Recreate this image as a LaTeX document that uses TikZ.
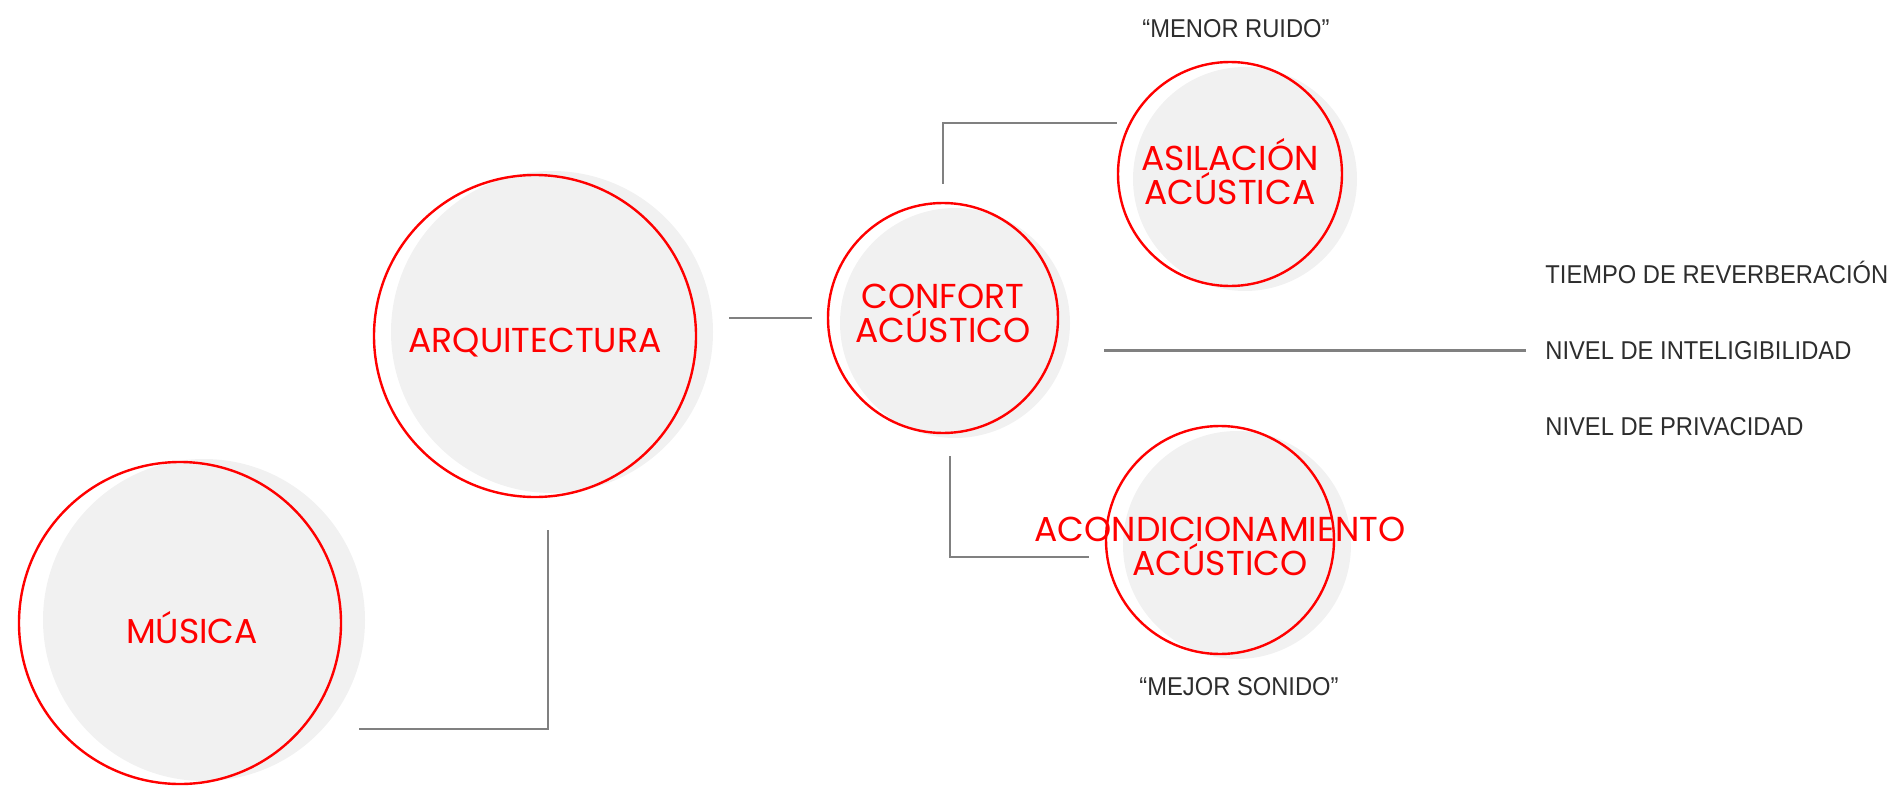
\documentclass[tikz,border=0pt]{standalone}
\usepackage{fontspec}
\usepackage{tikz}
\usetikzlibrary{calc, shadows}
\newfontfamily\bubblefont{Poppins}
\newfontfamily\notefont[FakeStretch=0.92]{Liberation Sans}
\definecolor{bubblered}{RGB}{255, 0, 0}
\definecolor{bubblegray}{RGB}{241, 241, 241}
\definecolor{linkgray}{RGB}{128, 128, 128}
\definecolor{notegray}{RGB}{45, 45, 45}

\begin{document}
\begin{tikzpicture}[
    x=0.5pt, y=-0.5pt,
    bubble/.style 2 args={circle, draw=bubblered, line width=1.2pt, inner sep=0pt, general shadow={fill=bubblegray, draw=none, shadow xshift=#1, shadow yshift=#2}},
    bubbletext/.style={text=bubblered, align=center, inner sep=0pt, font=\bubblefont\fontsize{17.3}{17}\selectfont},
    note/.style={text=notegray, inner sep=0pt, font=\notefont\fontsize{12.9}{14}\selectfont},
    link/.style={draw=linkgray, line width=1.4pt}
]
\useasboundingbox (0,0) rectangle (1891,787);

% Circles
\node[bubble={12pt}{1.5pt}, minimum size=161pt, label={[bubbletext, xshift=6pt, yshift=-2.5pt]center:MÚSICA}] (musica) at (180,623) {};
\node[bubble={8.5pt}{2pt}, minimum size=161pt, label={[bubbletext, yshift=-3.5pt]center:ARQUITECTURA}] (arq) at (535,336) {};
\node[bubble={6pt}{-2.5pt}, minimum size=115pt, label={[bubbletext, yshift=2.5pt]center:CONFORT\\ACÚSTICO}] (confort) at (943,318) {};
\node[bubble={7.5pt}{-2.5pt}, minimum size=112pt, label={[bubbletext, yshift=1.25pt]center:ASILACIÓN\\ACÚSTICA}] (asil) at (1230,174) {};
\node[bubble={8.5pt}{-2.5pt}, minimum size=114pt, label={[bubbletext, yshift=-3pt]center:ACONDICIONAMIENTO\\ACÚSTICO}] (acon) at (1220,540) {};

% Notes
\node[note, anchor=base] (menor) at (1236,37) {“MENOR RUIDO”};
\node[note, anchor=base] (mejor) at (1239,695) {“MEJOR SONIDO”};
\node[note, anchor=base west] (tiempo) at (1545,283) {TIEMPO DE REVERBERACIÓN};
\node[note, anchor=base west] (inteli) at (1545,359) {NIVEL DE INTELIGIBILIDAD};
\node[note, anchor=base west] (privacidad) at (1545,435) {NIVEL DE PRIVACIDAD};

% Links
\draw[link] ([shift={(17,106)}]musica.east) -| ([shift={(13,32)}]arq.south);
\draw[link] ($(arq.east |- confort.west)+(32,0)$) -- ([xshift=-7.5pt]confort.west);
\draw[link] ([yshift=9pt]confort.north) |- ([yshift=25.5pt]asil.west);
\draw[link] ([shift={(7,22)}]confort.south) |- ([shift={(-16,17)}]acon.west);
\draw[link] ($(confort.east |- inteli.west)+(45,0)$) -- ([xshift=-9.5pt]inteli.west);

\end{tikzpicture}
\end{document}
